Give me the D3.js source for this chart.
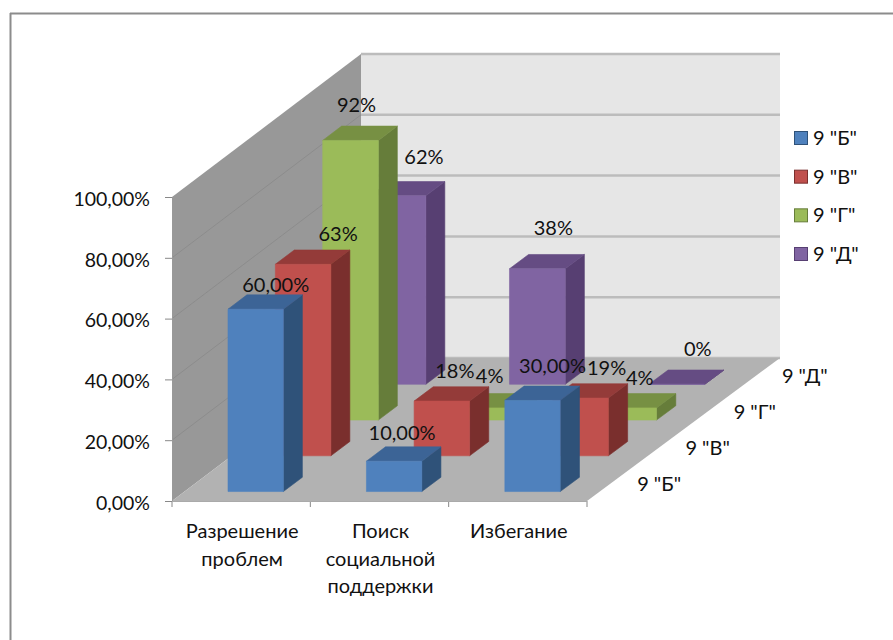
<!DOCTYPE html>
<html lang="ru">
<head>
<meta charset="utf-8">
<title>Стратегии совладания</title>
<script src="https://cdn.jsdelivr.net/npm/d3@7"></script>
<style>
  html, body { margin: 0; padding: 0; background: #fff; }
  svg { display: block; }
  text { font-family: Lato, "Open Sans", sans-serif; font-size: 20px; fill: #111; }
</style>
</head>
<body>
<div id="chart"></div>
<script>
// Categories, series and values (percent)
const categories = [["Разрешение", "проблем"], ["Поиск", "социальной", "поддержки"], ["Избегание"]];
const seriesNames = ['9 "Б"', '9 "В"', '9 "Г"', '9 "Д"'];
const valuesB = [60, 10, 30];
const valuesV = [63, 18, 19];
const valuesG = [92, 4, 4];
const valuesD = [62, 38, 0];
const valueTicks = [0, 20, 40, 60, 80, 100];

const allValues = [valuesB, valuesV, valuesG, valuesD];
const palette = [
  { front: "#4f81bd", side: "#2f5279", top: "#3c6496" },
  { front: "#c0504d", side: "#7a2f2d", top: "#943b39" },
  { front: "#9bbb59", side: "#667d3a", top: "#779043" },
  { front: "#8064a2", side: "#573f72", top: "#654c83" }
];

const W = 893, H = 640;
const svg = d3.select("#chart").append("svg").attr("width", W).attr("height", H);

// Oblique box: front-bottom edge, plot height, and how far the depth axis shifts.
// The back plane is a few pixels wider than the front, hence depthSpread.
const floorY = 501, plotH = 304, depthX = 189, depthY = 143, depthSpread = 4;
const catIdx = categories.map((_, i) => i);
const xBand = d3.scaleBand().domain(catIdx).range([172, 587]);
const xInner = d3.scaleBand().domain([0]).range([2, xBand.bandwidth() + 2]).paddingOuter(0.75);
const yScale = d3.scaleLinear().domain([0, 100]).range([0, plotH]);
const zBand = d3.scaleBand().domain(seriesNames).range([0, 1]);
const zMargin = 0.066, zDepth = 0.1;
const xFrac = d3.scaleLinear().domain(xBand.range()).range([0, 1]);

// Map (x in px, value, depth 0..1) to screen coordinates
const proj = (x, v, z) => [x + depthX * z + depthSpread * xFrac(x) * z, floorY - yScale(v) - depthY * z];
const poly = pts => pts.map(p => p.join(",")).join(" ");

// The chart area keeps only its top and left border lines
svg.append("line").attr("x1", 10).attr("x2", W).attr("y1", 13.5).attr("y2", 13.5)
  .attr("stroke", "#8c8c8c").attr("stroke-width", 2);
svg.append("line").attr("x1", 10.5).attr("x2", 10.5).attr("y1", 13).attr("y2", H)
  .attr("stroke", "#8c8c8c").attr("stroke-width", 2);

// Walls and floor
const left = xBand.range()[0], right = xBand.range()[1];
svg.append("polygon").attr("fill", "#e6e6e6")
  .attr("points", poly([proj(left, 100, 1), proj(right, 100, 1), proj(right, 0, 1), proj(left, 0, 1)]));
svg.append("polygon").attr("fill", "#989898")
  .attr("points", poly([proj(left, 100, 0), proj(left, 100, 1), proj(left, 0, 1), proj(left, 0, 0)]));

// Gridlines run along the side wall and across the back wall
valueTicks.forEach(t => {
  svg.append("line").attr("stroke", "#bcbcbc").attr("stroke-width", 2.5)
    .attr("x1", proj(left, t, 1)[0]).attr("y1", proj(left, t, 1)[1])
    .attr("x2", proj(right, t, 1)[0]).attr("y2", proj(right, t, 1)[1]);
  if (t > 0 && t < 100) {
    svg.append("line").attr("stroke", "#8c8c8c").attr("stroke-width", 1)
      .attr("x1", proj(left, t, 0)[0]).attr("y1", proj(left, t, 0)[1])
      .attr("x2", proj(left, t, 1)[0]).attr("y2", proj(left, t, 1)[1]);
  }
});

svg.append("polygon").attr("fill", "#b2b2b2")
  .attr("points", poly([proj(left, 0, 0), proj(right, 0, 0), proj(right, 0, 1), proj(left, 0, 1)]));

// Bars, back row first so that nearer rows overlap farther ones
d3.range(seriesNames.length - 1, -1, -1).forEach(s => {
  const z0 = zBand(seriesNames[s]) + zMargin, z1 = z0 + zDepth;
  const colors = palette[s];
  d3.range(categories.length - 1, -1, -1).forEach(c => {
    const v = allValues[s][c];
    const x0 = xBand(c) + xInner(0), x1 = x0 + xInner.bandwidth();
    const g = svg.append("g").attr("class", "bar");
    g.append("polygon").attr("fill", colors.side).attr("stroke", colors.side).attr("stroke-width", 0.6)
      .attr("points", poly([proj(x1, 0, z0), proj(x1, 0, z1), proj(x1, v, z1), proj(x1, v, z0)]));
    g.append("polygon").attr("fill", colors.top).attr("stroke", colors.top).attr("stroke-width", 0.6)
      .attr("points", poly([proj(x0, v, z0), proj(x1, v, z0), proj(x1, v, z1), proj(x0, v, z1)]));
    g.append("polygon").attr("fill", colors.front).attr("stroke", colors.front).attr("stroke-width", 0.6)
      .attr("points", poly([proj(x0, 0, z0), proj(x1, 0, z0), proj(x1, v, z0), proj(x0, v, z0)]));
  });
});

// Value axis on the front-left edge
const yAxisScale = d3.scaleLinear().domain([0, 100]).range([floorY, floorY - plotH]);
const comma = d3.formatLocale({ decimal: ",", thousands: " ", grouping: [3], currency: ["", ""] });
const fmt2 = v => comma.format(".2f")(v) + "%";
const fmt0 = v => comma.format(".0f")(v) + "%";
const yAxis = svg.append("g").attr("transform", `translate(${left},0)`)
  .call(d3.axisLeft(yAxisScale).tickValues(valueTicks).tickFormat(fmt2).tickSize(7).tickPadding(15));
yAxis.select(".domain").attr("stroke", "#999");
yAxis.selectAll(".tick line").attr("stroke", "#888");
yAxis.selectAll("text").attr("fill", null).attr("dy", "0.42em").style("font-size", "19.5px").style("font-family", null);

// Category axis: ticks sit on the band boundaries, labels wrap over several lines
[left].concat(catIdx.map(i => xBand(i) + xBand.bandwidth())).forEach(x => {
  svg.append("line").attr("x1", x).attr("x2", x).attr("y1", floorY).attr("y2", floorY + 6)
    .attr("stroke", "#888");
});
svg.append("line").attr("x1", left).attr("x2", right).attr("y1", floorY + 0.5).attr("y2", floorY + 0.5)
  .attr("stroke", "#aaa");
categories.forEach((lines, i) => {
  const cx = xBand(i) + xBand.bandwidth() / 2 + 1;
  const t = svg.append("text").attr("text-anchor", "middle").attr("x", cx).attr("y", 538);
  lines.forEach((line, k) => {
    t.append("tspan").attr("x", cx).attr("dy", k ? 27.5 : 0).text(line);
  });
});

// Depth axis labels beside the floor's right edge
seriesNames.forEach(name => {
  const zc = zBand(name) + zBand.bandwidth() / 2;
  const [px, py] = proj(right, 0, zc);
  svg.append("text").attr("x", px + 26).attr("y", py + 7.5).text(name);
});

// Data labels, nudged off the bar tops the way they sit on the chart
const labelNudge = [
  [[20, -25], [8, -29], [20, -35]],
  [[35, -31], [13, -31], [26, -31]],
  [[6, -36], [0, -33], [11, -31]],
  [[26, -40], [16, -42], [21, -36]]
];
allValues.forEach((vals, s) => {
  const z0 = zBand(seriesNames[s]) + zMargin;
  const f = s === 0 ? fmt2 : fmt0;
  vals.forEach((v, c) => {
    const xc = xBand(c) + xInner(0) + xInner.bandwidth() / 2;
    const [px, py] = proj(xc, v, z0);
    svg.append("text").attr("text-anchor", "middle").attr("dominant-baseline", "central")
      .attr("x", px + labelNudge[s][c][0]).attr("y", py + labelNudge[s][c][1]).text(f(v));
  });
});

// Legend
const legendY = d3.scalePoint().domain(seriesNames).range([138, 254]);
seriesNames.forEach((name, s) => {
  const y = legendY(name);
  svg.append("rect").attr("x", 794.5).attr("y", y - 6.5).attr("width", 13).attr("height", 13)
    .attr("fill", palette[s].front).attr("stroke", palette[s].side).attr("stroke-width", 1);
  svg.append("text").attr("x", 813).attr("y", y + 7).text(name);
});
</script>
</body>
</html>
